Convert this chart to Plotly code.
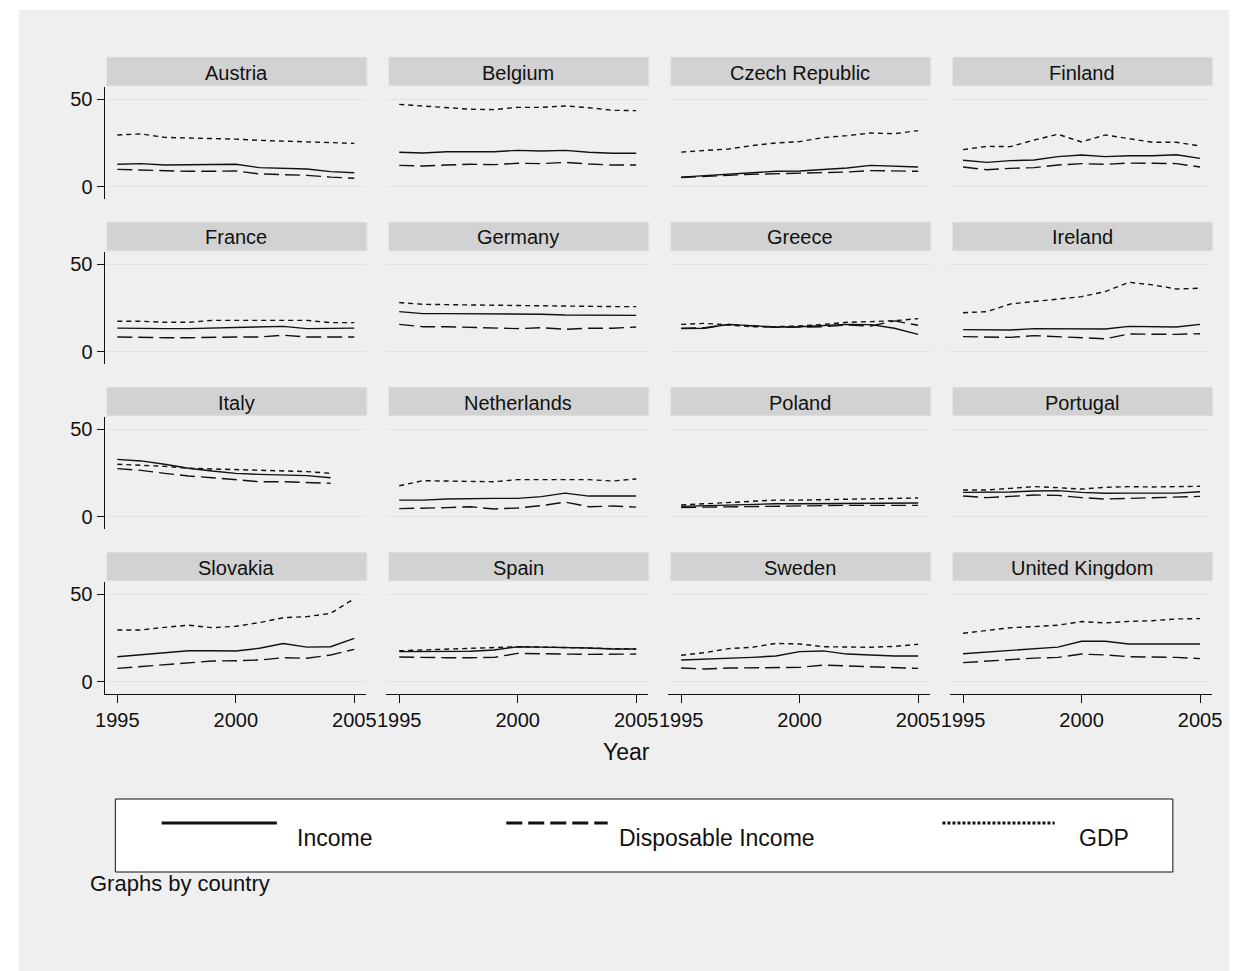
import plotly.graph_objects as go

years = list(range(1995, 2006))

countries = ["Austria", "Belgium", "Czech Republic", "Finland",
             "France", "Germany", "Greece", "Ireland",
             "Italy", "Netherlands", "Poland", "Portugal",
             "Slovakia", "Spain", "Sweden", "United Kingdom"]

income = {
    "Austria":        [12.8, 13.2, 12.4, 12.4, 12.4, 12.8, 10.9, 10.5, 10.1, 8.6, 8.0],
    "Belgium":        [19.7, 19.3, 20.0, 20.0, 20.0, 20.8, 20.4, 20.8, 19.7, 19.1, 19.1],
    "Czech Republic": [5.5, 6.3, 7.1, 7.8, 8.8, 9.0, 9.7, 10.7, 12.2, 11.8, 11.3],
    "Finland":        [15.1, 13.9, 14.9, 15.3, 17.2, 18.1, 17.2, 17.7, 17.7, 18.3, 16.2],
    "France":         [13.5, 13.2, 13.2, 13.2, 13.5, 13.5, 13.9, 14.5, 13.2, 13.2, 13.5],
    "Germany":        [22.9, 21.8, 21.8, 21.8, 21.6, 21.6, 21.4, 21.0, 21.0, 20.6, 20.8],
    "Greece":         [13.2, 13.4, 15.6, 14.7, 14.1, 14.3, 15.1, 15.6, 15.5, 13.4, 9.9],
    "Ireland":        [12.6, 12.4, 12.4, 13.2, 13.2, 12.8, 13.0, 14.5, 14.1, 14.1, 15.6],
    "Italy":          [32.8, 31.9, 30.0, 27.7, 26.1, 24.8, 24.2, 23.9, 23.5, 22.3, None],
    "Netherlands":    [9.5, 9.5, 10.1, 10.5, 10.5, 10.5, 11.5, 13.5, 11.8, 11.8, 11.8],
    "Poland":         [5.9, 6.3, 6.7, 7.1, 7.4, 7.4, 7.4, 7.6, 7.6, 7.6, 7.8],
    "Portugal":       [13.9, 13.9, 14.1, 14.7, 14.9, 13.9, 13.4, 13.5, 13.5, 13.5, 14.3],
    "Slovakia":       [14.3, 15.5, 16.6, 17.7, 17.7, 17.6, 19.1, 21.8, 19.8, 20.0, 24.8],
    "Spain":          [17.2, 17.2, 17.4, 17.4, 18.1, 20.0, 19.8, 19.7, 19.3, 18.7, 18.7],
    "Sweden":         [12.4, 12.8, 13.4, 13.9, 14.7, 17.2, 17.6, 15.8, 15.3, 14.7, 14.7],
    "United Kingdom": [16.0, 17.0, 17.9, 18.9, 19.8, 23.1, 23.1, 21.6, 21.6, 21.9, 21.6],
}

disposable = {
    "Austria":        [9.9, 9.5, 9.0, 8.8, 8.8, 9.0, 7.3, 7.1, 6.5, 5.5, 4.8],
    "Belgium":        [12.2, 11.8, 12.4, 12.8, 12.6, 13.4, 13.2, 13.9, 13.0, 12.4, 12.4],
    "Czech Republic": [5.3, 6.1, 6.5, 7.1, 7.4, 7.4, 8.0, 8.4, 9.2, 8.8, 8.8],
    "Finland":        [11.3, 9.7, 10.5, 10.9, 12.4, 13.2, 12.8, 13.5, 13.4, 13.2, 11.3],
    "France":         [8.4, 8.0, 8.0, 8.0, 8.4, 8.4, 8.4, 9.4, 8.4, 8.4, 8.4],
    "Germany":        [15.6, 14.3, 14.3, 13.9, 13.5, 13.2, 13.7, 12.8, 13.4, 13.4, 14.1],
    "Greece":         [13.5, 13.7, 15.6, 14.7, 13.9, 14.1, 14.3, 15.3, 14.7, 17.6, 15.1],
    "Ireland":        [8.6, 8.6, 8.2, 9.2, 8.6, 8.2, 7.4, 10.1, 9.9, 9.9, 10.3],
    "Italy":          [27.5, 26.5, 24.8, 23.3, 22.3, 21.0, 20.0, 20.0, 19.7, 19.1, None],
    "Netherlands":    [4.6, 4.8, 5.2, 5.7, 4.4, 5.0, 6.3, 8.4, 5.7, 6.1, 5.5],
    "Poland":         [5.3, 5.5, 5.7, 6.1, 6.3, 6.5, 6.5, 6.5, 6.5, 6.5, 6.5],
    "Portugal":       [11.8, 10.9, 11.6, 12.4, 12.2, 10.9, 10.1, 10.5, 10.7, 10.9, 11.6],
    "Slovakia":       [7.6, 8.6, 9.5, 10.9, 11.8, 12.0, 12.4, 13.7, 13.4, 15.3, 18.5],
    "Spain":          [14.1, 13.7, 13.7, 13.7, 13.9, 16.2, 15.8, 15.8, 15.6, 15.8, 15.8],
    "Sweden":         [7.8, 7.3, 7.8, 7.8, 7.8, 8.2, 9.5, 9.0, 8.6, 7.8, 7.6],
    "United Kingdom": [10.9, 11.8, 13.0, 13.5, 13.9, 15.8, 15.3, 14.3, 14.1, 13.9, 13.2],
}

gdp = {
    "Austria":        [29.6, 30.2, 28.2, 28.0, 27.6, 27.2, 26.5, 26.1, 25.8, 25.0, 24.8],
    "Belgium":        [47.1, 46.2, 45.2, 44.3, 44.1, 45.4, 45.4, 46.2, 45.2, 43.7, 43.5],
    "Czech Republic": [19.8, 20.6, 21.6, 23.5, 25.0, 25.8, 28.1, 29.2, 30.7, 30.3, 32.1],
    "Finland":        [21.2, 23.1, 22.9, 26.7, 30.0, 25.6, 29.6, 27.7, 25.4, 25.4, 23.3],
    "France":         [17.4, 17.4, 16.8, 16.8, 17.9, 17.9, 17.9, 17.9, 17.9, 16.6, 16.6],
    "Germany":        [28.1, 27.1, 26.9, 26.7, 26.5, 26.3, 26.1, 25.8, 25.8, 25.8, 25.8],
    "Greece":         [15.6, 16.2, 15.3, 14.3, 14.3, 14.7, 15.6, 16.8, 17.2, 17.7, 18.9],
    "Ireland":        [22.3, 22.9, 27.3, 28.6, 30.0, 31.5, 34.4, 39.7, 38.2, 35.9, 36.3],
    "Italy":          [30.0, 29.6, 28.8, 27.7, 27.3, 26.7, 26.5, 26.1, 25.8, 24.8, None],
    "Netherlands":    [17.7, 20.6, 20.4, 20.0, 20.0, 21.2, 21.2, 21.2, 21.2, 20.4, 21.6],
    "Poland":         [6.7, 7.4, 8.2, 9.0, 9.5, 9.5, 9.7, 9.7, 9.9, 10.1, 10.7],
    "Portugal":       [15.3, 15.3, 16.2, 17.2, 16.6, 15.8, 16.8, 17.2, 17.0, 17.0, 17.4],
    "Slovakia":       [29.6, 29.6, 31.1, 32.3, 30.9, 31.7, 33.8, 36.6, 37.2, 39.1, 47.5],
    "Spain":          [17.7, 18.1, 18.5, 18.9, 19.7, 20.0, 19.8, 19.7, 19.3, 18.9, 18.7],
    "Sweden":         [15.1, 16.6, 18.9, 19.7, 21.9, 21.6, 20.0, 19.7, 19.7, 20.2, 21.4],
    "United Kingdom": [27.7, 29.2, 30.9, 31.5, 32.3, 34.4, 33.6, 34.5, 34.9, 35.9, 36.1],
}

series_names = ["Income", "Disposable Income", "GDP"]
x_ticks = [1995, 2000, 2005]
y_ticks = [0, 50]

W, H = 1239, 971
FONT = "Liberation Sans, Arial, Helvetica, sans-serif"
BLACK = "#111111"
dash_disp = "15px,6px"
dash_gdp = "5px,4px"


def px(x):
    return x / W


def py(y):
    return 1 - y / H


fig = go.Figure()
shapes = []
annotations = []

# outer gray region
shapes.append(dict(type="rect", xref="paper", yref="paper", x0=px(10), x1=1,
                   y0=0, y1=py(10), fillcolor="#efefef", line=dict(width=0),
                   layer="below"))

col_pitch = 286.3
row_pitch = 165.0
layout_axes = {}
for i, c in enumerate(countries):
    r, col = divmod(i, 4)
    x0 = 97 + col_pitch * col
    x1 = 362.7 + col_pitch * col
    y0 = 86.7 + row_pitch * r
    y1 = 199 + row_pitch * r
    n = i + 1
    xa = "x" if n == 1 else f"x{n}"
    ya = "y" if n == 1 else f"y{n}"
    xkey = "xaxis" if n == 1 else f"xaxis{n}"
    ykey = "yaxis" if n == 1 else f"yaxis{n}"
    bottom = (r == 3)
    left = (col == 0)
    layout_axes[xkey] = dict(
        domain=[px(x0), px(x1)], anchor=ya, range=[1994.46, 2005.5],
        tickvals=x_ticks, showticklabels=bottom, ticks="outside" if bottom else "",
        ticklen=8, tickcolor=BLACK, tickwidth=1,
        showline=bottom, linecolor=BLACK, linewidth=1,
        showgrid=False, zeroline=False,
        tickfont=dict(family=FONT, size=20, color=BLACK),
    )
    layout_axes[ykey] = dict(
        domain=[py(y1), py(y0)], anchor=xa, range=[-7.04, 57.2],
        tickvals=y_ticks, showticklabels=left, ticks="outside" if left else "",
        ticklen=7, tickcolor=BLACK, tickwidth=1,
        showline=left, linecolor=BLACK, linewidth=1,
        showgrid=True, gridcolor="#e3e3e3", gridwidth=1, zeroline=False,
        tickfont=dict(family=FONT, size=20, color=BLACK),
    )
    # strip
    sy0 = 57 + row_pitch * r
    sy1 = 86 + row_pitch * r
    shapes.append(dict(type="rect", xref="paper", yref="paper",
                       x0=px(x0 + 2), x1=px(x1 + 1), y0=py(sy1), y1=py(sy0),
                       fillcolor="#d2d2d2", line=dict(color="#e2eaec", width=1),
                       layer="below"))
    annotations.append(dict(text=c, xref="paper", yref="paper",
                            x=px((x0 + x1) / 2 + 1), y=py((sy0 + sy1) / 2 + 1),
                            showarrow=False, xanchor="center", yanchor="middle",
                            font=dict(family=FONT, size=20, color=BLACK)))
    fig.add_trace(go.Scatter(x=years, y=income[c], mode="lines", xaxis=xa, yaxis=ya,
                             line=dict(color=BLACK, width=1.4), name="Income",
                             showlegend=False, connectgaps=False))
    fig.add_trace(go.Scatter(x=years, y=disposable[c], mode="lines", xaxis=xa, yaxis=ya,
                             line=dict(color=BLACK, width=1.4, dash=dash_disp),
                             name="Disposable Income", showlegend=False))
    fig.add_trace(go.Scatter(x=years, y=gdp[c], mode="lines", xaxis=xa, yaxis=ya,
                             line=dict(color=BLACK, width=1.4, dash=dash_gdp),
                             name="GDP", showlegend=False))

# x title
annotations.append(dict(text="Year", xref="paper", yref="paper", x=px(627), y=py(752),
                        showarrow=False, xanchor="center", yanchor="middle",
                        font=dict(family=FONT, size=23, color=BLACK)))

# legend box
shapes.append(dict(type="rect", xref="paper", yref="paper", x0=px(108), x1=px(1182),
                   y0=py(872), y1=py(799), fillcolor="white",
                   line=dict(color=BLACK, width=1)))
legend_keys = [(155, 272, "solid", 290), (505, 608, "16px,6px", 617), (948, 1062, "3px,2px", 1085)]
for (lx0, lx1, dsh, tx), name in zip(legend_keys, series_names):
    shapes.append(dict(type="line", xref="paper", yref="paper", x0=px(lx0), x1=px(lx1),
                       y0=py(823), y1=py(823), line=dict(color=BLACK, width=3, dash=dsh)))
    annotations.append(dict(text=name, xref="paper", yref="paper", x=px(tx), y=py(838),
                            showarrow=False, xanchor="left", yanchor="middle",
                            font=dict(family=FONT, size=23, color=BLACK)))

annotations.append(dict(text="Graphs by country", xref="paper", yref="paper", x=px(80),
                        y=py(883), showarrow=False, xanchor="left", yanchor="middle",
                        font=dict(family=FONT, size=22, color=BLACK)))

fig.update_layout(
    width=W, height=H, margin=dict(l=0, r=0, t=0, b=0),
    paper_bgcolor="white", plot_bgcolor="white",
    showlegend=False, shapes=shapes, annotations=annotations,
    **layout_axes,
)

fig.write_html("out.html")
